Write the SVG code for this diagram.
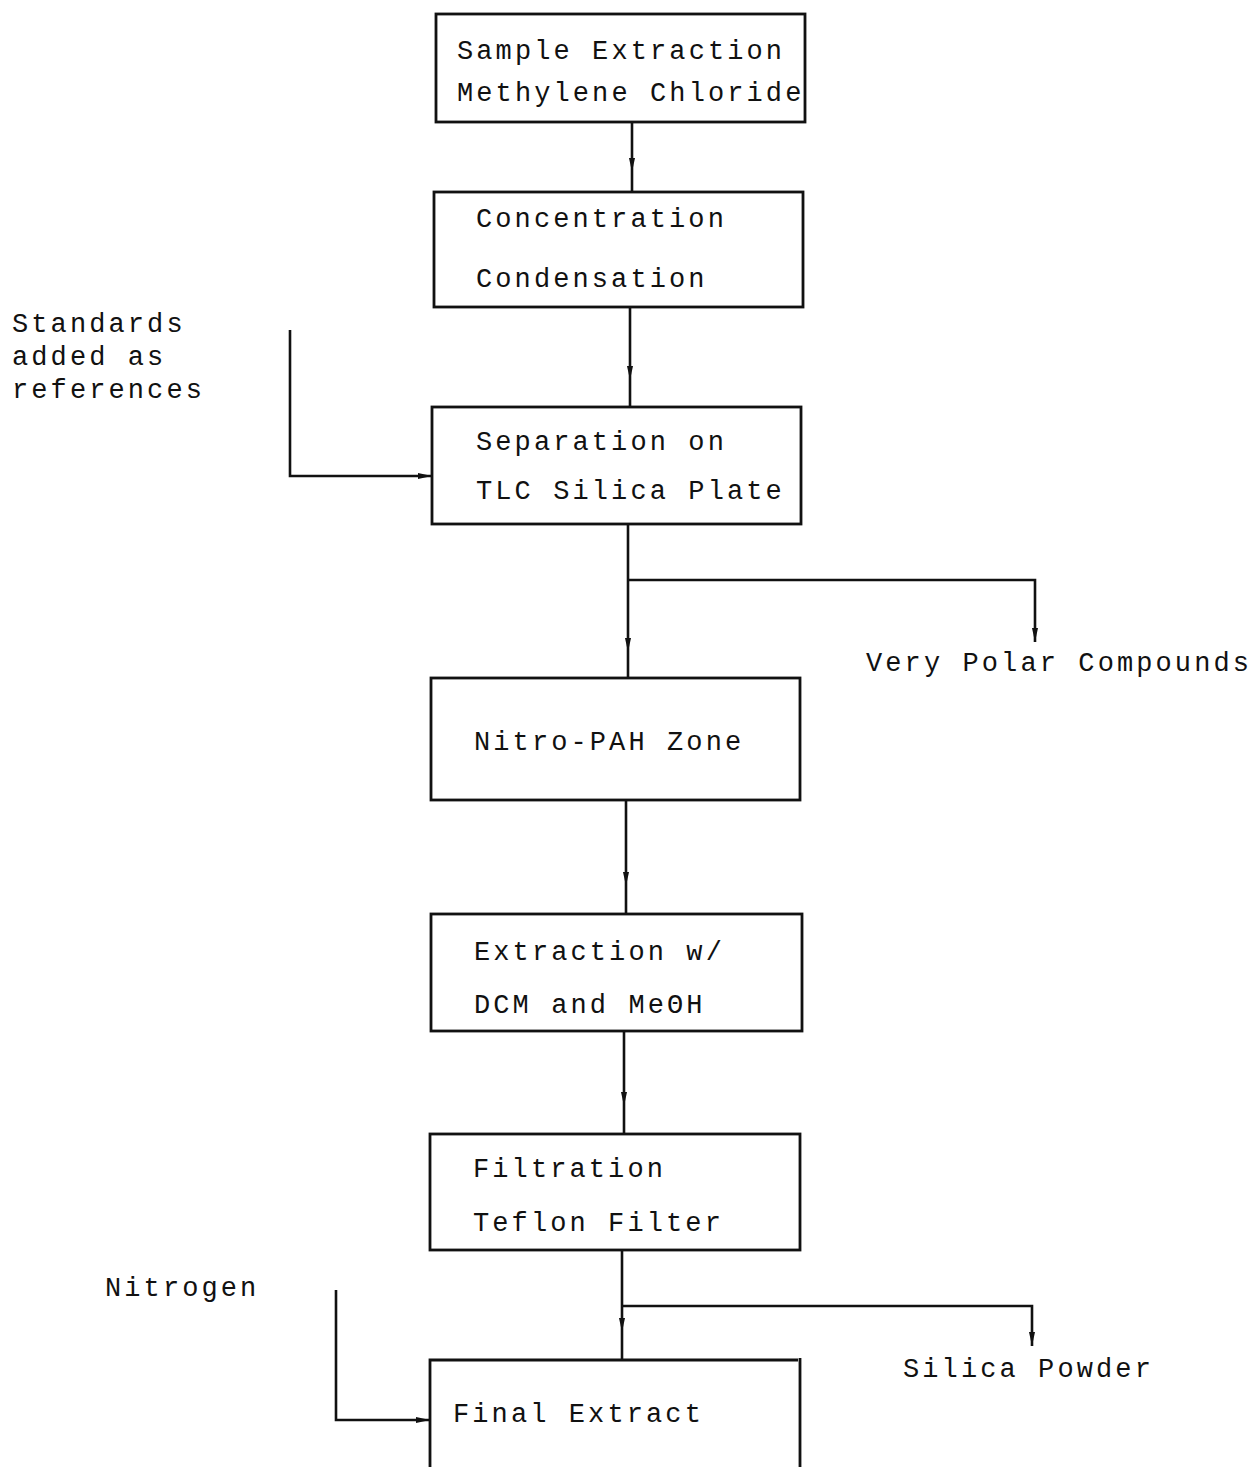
<svg xmlns="http://www.w3.org/2000/svg" width="1259" height="1467" viewBox="0 0 1259 1467">
  <style>
    .box { fill: none; stroke: #111; stroke-width: 2.8; }
    .edge { fill: none; stroke: #111; stroke-width: 2.6; }
    .lbl { font-family: "Liberation Mono", "Courier New", monospace; font-size: 27px; letter-spacing: 3.1px; fill: #111; }
    .mid { marker-mid: url(#head); }
    .end { marker-end: url(#head); }
  </style>
  <defs>
    <marker id="head" viewBox="0 0 14 6" refX="14" refY="3" markerWidth="14" markerHeight="6" markerUnits="userSpaceOnUse" orient="auto">
      <path d="M0,0 L14,3 L0,6 z" fill="#111"/>
    </marker>
  </defs>

  <!-- connectors -->
  <g id="connectors">
    <path class="edge mid" d="M632 122 V172 V192"/>
    <path class="edge mid" d="M630 307 V380 V407"/>
    <path class="edge end" d="M290 330 V476 H432"/>
    <path class="edge mid" d="M628 524 V652 V678"/>
    <path class="edge end" d="M628 580 H1035 V642"/>
    <path class="edge mid" d="M626 800 V886 V914"/>
    <path class="edge mid" d="M624 1031 V1106 V1134"/>
    <path class="edge mid" d="M622 1250 V1332 V1360"/>
    <path class="edge end" d="M622 1306 H1032 V1346"/>
    <path class="edge end" d="M336 1290 V1420 H430"/>
  </g>

  <!-- process steps -->
  <g id="step-extraction">
    <rect class="box" x="436" y="14" width="369" height="108"/>
    <text class="lbl" x="457" y="59">Sample Extraction</text>
    <text class="lbl" x="457" y="101">Methylene Chloride</text>
  </g>
  <g id="step-concentration">
    <rect class="box" x="434" y="192" width="369" height="115"/>
    <text class="lbl" x="476" y="227">Concentration</text>
    <text class="lbl" x="476" y="287">Condensation</text>
  </g>
  <g id="step-separation">
    <rect class="box" x="432" y="407" width="369" height="117"/>
    <text class="lbl" x="476" y="450">Separation on</text>
    <text class="lbl" x="476" y="499">TLC Silica Plate</text>
  </g>
  <g id="step-zone">
    <rect class="box" x="431" y="678" width="369" height="122"/>
    <text class="lbl" x="474" y="750">Nitro-PAH Zone</text>
  </g>
  <g id="step-solvent">
    <rect class="box" x="431" y="914" width="371" height="117"/>
    <text class="lbl" x="474" y="960">Extraction w/</text>
    <text class="lbl" x="474" y="1013">DCM and MeΘH</text>
  </g>
  <g id="step-filtration">
    <rect class="box" x="430" y="1134" width="370" height="116"/>
    <text class="lbl" x="473" y="1177">Filtration</text>
    <text class="lbl" x="473" y="1231">Teflon Filter</text>
  </g>
  <g id="step-final">
    <path class="box" d="M430 1467 V1360 H798 M800 1358 V1467"/>
    <text class="lbl" x="453" y="1422">Final Extract</text>
  </g>

  <!-- side inputs and outputs -->
  <g id="in-standards">
    <text class="lbl" x="12" y="332">Standards</text>
    <text class="lbl" x="12" y="365">added as</text>
    <text class="lbl" x="12" y="398">references</text>
  </g>
  <g id="out-polar">
    <text class="lbl" x="866" y="671">Very Polar Compounds</text>
  </g>
  <g id="in-nitrogen">
    <text class="lbl" x="105" y="1296">Nitrogen</text>
  </g>
  <g id="out-silica">
    <text class="lbl" x="903" y="1377">Silica Powder</text>
  </g>
</svg>
